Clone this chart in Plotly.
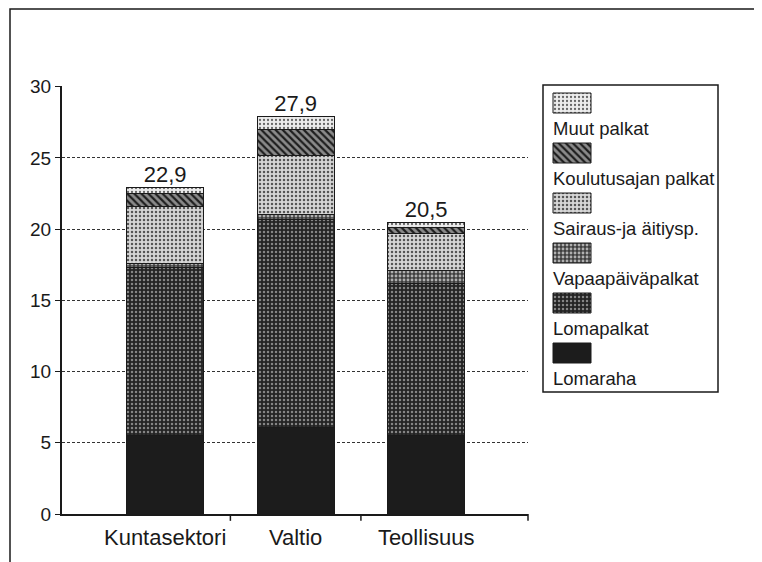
import plotly.graph_objects as go

# Data
categories = ["Kuntasektori", "Valtio", "Teollisuus"]
series_names = ["Lomaraha", "Lomapalkat", "Vapaapäiväpalkat",
                "Sairaus-ja äitiysp.", "Koulutusajan palkat", "Muut palkat"]
lomaraha = [5.5, 6.1, 5.5]
lomapalkat = [11.8, 14.6, 10.7]
vapaapaiva = [0.3, 0.3, 0.9]
sairaus = [4.0, 4.2, 2.6]
koulutus = [0.9, 1.8, 0.4]
muut = [0.4, 0.9, 0.4]
totals = [22.9, 27.9, 20.5]
y_ticks = [0, 5, 10, 15, 20, 25, 30]

series_values = [lomaraha, lomapalkat, vapaapaiva, sairaus, koulutus, muut]

# fill styles (bg, pattern shape, fg, size, solidity)
styles = [
    ("#1c1c1c", "", "#1c1c1c", 4, 0.3),
    ("#242424", ".", "#858585", 4, 0.3),
    ("#3e3e3e", ".", "#b0b0b0", 4, 0.4),
    ("#d6d6d6", ".", "#555555", 4, 0.3),
    ("#8a8a8a", "\\", "#1e1e1e", 5, 0.45),
    ("#ececec", ".", "#666666", 4, 0.25),
]

# page body adds an 8px offset; positions below are in page pixels
OFF = 8
W, H = 762 - OFF, 562 - OFF
FONT = "Liberation Sans, Arial, sans-serif"
INK = "#1a1a1a"


def fx(px):
    return (px - OFF) / W


def fy(py):
    return (H - (py - OFF)) / H


fig = go.Figure()

for name, vals, (bg, shp, fg, sz, sol) in zip(series_names, series_values, styles):
    fig.add_trace(go.Bar(
        x=categories, y=vals, name=name,
        marker=dict(color=bg, line=dict(color=INK, width=1),
                    pattern=dict(shape=shp, fgcolor=fg, bgcolor=bg, size=sz, solidity=sol)),
        width=0.59, showlegend=False, hoverinfo="skip",
    ))

# totals above bars
fig.add_trace(go.Scatter(
    x=categories, y=totals, mode="text",
    texttemplate="%{y:.1f}", textposition="top center",
    textfont=dict(size=22, color=INK, family=FONT),
    showlegend=False, hoverinfo="skip", cliponaxis=False,
))

# custom legend: swatch above its label, drawn in a pixel-scaled axis
lg_x0, lg_x1, lg_top, lg_bot = 543, 718, 85, 392
for i, (name, (bg, shp, fg, sz, sol)) in enumerate(zip(series_names[::-1], styles[::-1])):
    top = 93 + 50 * i
    fig.add_trace(go.Scatter(
        x=[553, 591, 591, 553, 553], y=[top, top, top + 20, top + 20, top],
        xaxis="x2", yaxis="y2", mode="lines", fill="toself",
        fillcolor=bg, line=dict(color=INK, width=1),
        fillpattern=dict(shape=shp, fgcolor=fg, bgcolor=bg, size=sz, solidity=sol),
        showlegend=False, hoverinfo="skip",
    ))
    fig.add_annotation(x=551, y=top + 35, xref="x2", yref="y2", text=name,
                       showarrow=False, xanchor="left", yanchor="middle",
                       font=dict(size=18.5, color=INK, family=FONT))

fig.add_shape(type="rect", xref="x2", yref="y2", x0=lg_x0, x1=lg_x1, y0=lg_top, y1=lg_bot,
              line=dict(color=INK, width=1.5))

# outer frame (open at the bottom)
fig.add_shape(type="rect", xref="paper", yref="paper",
              x0=fx(10), x1=fx(756), y0=-0.05, y1=fy(9),
              line=dict(color=INK, width=1.5))

# x tick marks between categories and at the axis end
for xv in [0.5, 1.5]:
    fig.add_shape(type="line", xref="x", yref="y domain", x0=xv, x1=xv, y0=0, y1=-0.016,
                  line=dict(color=INK, width=1.5))
fig.add_shape(type="line", xref="x domain", yref="y domain", x0=1, x1=1, y0=0, y1=-0.016,
              line=dict(color=INK, width=1.5))

fig.update_layout(
    width=W, height=H,
    template="none",
    separators=", ",
    barmode="stack",
    paper_bgcolor="white",
    plot_bgcolor="white",
    font=dict(family=FONT, color=INK),
    margin=dict(l=0, r=0, t=0, b=0),
    xaxis=dict(
        domain=[fx(62), fx(528)], range=[-0.79, 2.78],
        showline=True, linecolor=INK, linewidth=2,
        ticks="", ticklabelstandoff=3,
        tickfont=dict(size=22, color=INK, family=FONT),
        showgrid=False, automargin=False,
    ),
    yaxis=dict(
        domain=[fy(514), fy(86)], range=[0, 30.05],
        tickvals=y_ticks,
        showline=True, linecolor=INK, linewidth=2,
        ticks="outside", ticklen=5, tickcolor=INK,
        tickfont=dict(size=19, color=INK, family=FONT),
        showgrid=True, gridcolor="#333333", gridwidth=1, griddash="3px,2px",
        zeroline=False, automargin=False,
    ),
    xaxis2=dict(domain=[fx(lg_x0 - 2), fx(lg_x1 + 2)], range=[lg_x0 - 2, lg_x1 + 2],
                visible=False, fixedrange=True),
    yaxis2=dict(domain=[fy(lg_bot + 2), fy(lg_top - 2)],
                range=[lg_bot + 2, lg_top - 2], visible=False, fixedrange=True),
)

fig.write_html("out.html")
